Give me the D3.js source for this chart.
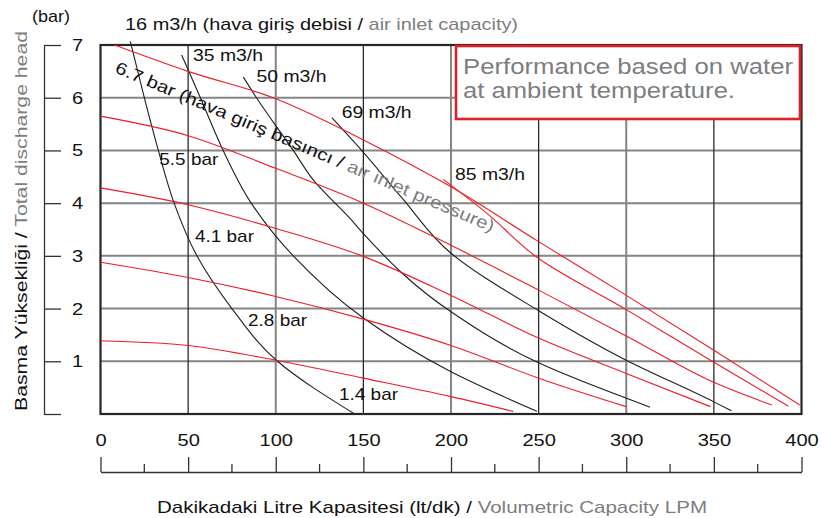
<!DOCTYPE html>
<html><head><meta charset="utf-8">
<script src="https://cdn.jsdelivr.net/npm/d3@7"></script>
<style>
body{margin:0;background:#fff}
text{font-family:"Liberation Sans",Arial,Helvetica,sans-serif}
</style></head><body>
<svg id="c" width="821" height="518"></svg>
<script>
// ---------- data ----------
const xTickValues = [0, 50, 100, 150, 200, 250, 300, 350, 400];
const xMinorTicks = [25, 75, 125, 175, 225, 275, 325, 375];
const yTickValues = [0, 1, 2, 3, 4, 5, 6, 7];
const yTickLabels = ["", "1", "2", "3", "4", "5", "6", "7"];

// constant air inlet pressure curves [LPM, bar]
const p67 = [[8,7.0],[50,6.5],[100,5.98],[150,5.2],[200,4.31],[250,3.27],[300,2.25],[350,1.21],[399,0.17]];
const p55 = [[0,5.65],[50,5.28],[100,4.66],[150,4.0],[200,3.2],[250,2.35],[300,1.48],[350,0.6],[383,0.17]];
const p41 = [[0,4.29],[50,3.97],[100,3.52],[150,2.99],[200,2.25],[250,1.44],[300,0.77],[348,0.14]];
const p28 = [[0,2.88],[50,2.59],[100,2.23],[150,1.8],[200,1.3],[250,0.68],[300,0.14]];
const p14 = [[0,1.39],[50,1.3],[100,1.02],[150,0.68],[200,0.33],[235.5,0.05]];

// constant air inlet capacity curves [LPM, bar]
const q16 = [[17,7.07],[25,6],[33,5],[42,4],[55,3],[75,2],[101,1],[145,0]];
const q35 = [[46.3,6.81],[57,6],[70,5],[86,4],[110,3],[150,1.82],[200,0.8],[249,0.05]];
const q50 = [[81.5,6.39],[89,6],[110,5],[121.4,4.44],[142.4,3.71],[150,3.42],[200,1.94],[250,0.97],[313.6,0.13]];
const q69 = [[132,5.62],[149,5.0],[172,4.1],[200,3.05],[250,1.96],[300,1.02],[350,0.23],[360,0.06]];
const q85 = [[195.6,4.45],[220,3.82],[250,2.95],[300,1.98],[350,0.98],[392.5,0.15]];

const pressureSeries = [p67, p55, p41, p28, p14];
const blackFlowSeries = [q16, q35, q50, q69];
const redFlowSeries = [q85];

const flowLabels = ["35 m3/h", "50 m3/h", "69 m3/h", "85 m3/h"];
const pressureLabels = ["5.5 bar", "4.1 bar", "2.8 bar", "1.4 bar"];
const legendLines = ["Performance based on water", "at ambient temperature."];

// ---------- layout ----------
const svg = d3.select("#c");
const x = d3.scaleLinear().domain([0, 400]).range([100.5, 801.5]);
const y = d3.scaleLinear().domain([0, 7]).range([414, 45]);
const RED = "#ee1c25", GREY_TXT = "#7d7d7f", DARK = "#1e1e1e";

// grid
const grid = svg.append("g");
grid.selectAll("line.h").data(yTickValues.filter(d => d > 0 && d < 7)).join("line")
  .attr("x1", x(0)).attr("x2", x(400)).attr("y1", d => y(d)).attr("y2", d => y(d))
  .attr("stroke", "#858585").attr("stroke-width", 2);
grid.selectAll("line.vg").data(xTickValues.filter(d => d > 0 && d < 400 && d % 100 === 0)).join("line")
  .attr("class","vg")
  .attr("x1", d => x(d)).attr("x2", d => x(d)).attr("y1", y(7)).attr("y2", y(0))
  .attr("stroke", "#858585").attr("stroke-width", 2);
grid.selectAll("line.vd").data(xTickValues.filter(d => d % 100 === 50)).join("line")
  .attr("class","vd")
  .attr("x1", d => x(d)).attr("x2", d => x(d)).attr("y1", y(7)).attr("y2", y(0))
  .attr("stroke", "#2a2a2a").attr("stroke-width", 1.3);
svg.append("rect").attr("x", x(0)).attr("y", y(7)).attr("width", x(400) - x(0)).attr("height", y(0) - y(7))
  .attr("fill", "none").attr("stroke", "#262626").attr("stroke-width", 2.2);

// legend box
svg.append("rect").attr("x", 456).attr("y", 46).attr("width", 344).attr("height", 73)
  .attr("fill", "#fff").attr("stroke", "#e31e26").attr("stroke-width", 2.6);
svg.append("g").selectAll("text").data(legendLines).join("text")
  .attr("x", 463).attr("y", (d, i) => 74 + i * 24).attr("font-size", 21.5).attr("fill", GREY_TXT)
  .attr("textLength", (d, i) => [330, 272][i]).attr("lengthAdjust", "spacingAndGlyphs").text(d => d);

// curves
const redLine = d3.line().x(d => x(d[0])).y(d => y(d[1])).curve(d3.curveMonotoneX);
const blackLine = d3.line().x(d => x(d[0])).y(d => y(d[1])).curve(d3.curveMonotoneY);
svg.append("g").selectAll("path").data(blackFlowSeries).join("path")
  .attr("d", blackLine).attr("fill", "none").attr("stroke", DARK).attr("stroke-width", 1.1);
svg.append("g").selectAll("path").data(pressureSeries).join("path")
  .attr("d", redLine).attr("fill", "none").attr("stroke", RED).attr("stroke-width", 1.1);
svg.append("g").selectAll("path").data(redFlowSeries).join("path")
  .attr("d", blackLine).attr("fill", "none").attr("stroke", RED).attr("stroke-width", 1.1);

// left axis
const yAxis = d3.axisRight(y).tickValues(yTickValues).tickSize(17).tickPadding(11).tickSizeOuter(0)
  .tickFormat((d, i) => yTickLabels[i]);
const gy = svg.append("g").attr("transform", "translate(44,0)").call(yAxis);
gy.select(".domain").attr("stroke", "#333").attr("stroke-width", 1.3);
gy.selectAll(".tick line").attr("stroke", "#333").attr("stroke-width", 1.3);
gy.selectAll("text").attr("font-size", 17).attr("fill", "#111").attr("font-family", null);

// bottom axis
const xAxis = d3.axisTop(x).tickValues(xTickValues).tickSize(15).tickPadding(11).tickSizeOuter(0);
const gx = svg.append("g").attr("transform", "translate(0,472)").call(xAxis);
gx.select(".domain").attr("stroke", "#333").attr("stroke-width", 1.3);
gx.selectAll(".tick line").attr("stroke", "#333").attr("stroke-width", 1.3);
gx.selectAll("text").attr("font-size", 17).attr("fill", "#111").attr("font-family", null);
gx.append("g").selectAll("line").data(xMinorTicks).join("line")
  .attr("x1", d => x(d)).attr("x2", d => x(d)).attr("y1", 0).attr("y2", -8)
  .attr("stroke", "#333").attr("stroke-width", 1.3);
[gx, gy].forEach(g => g.selectAll("text").each(function () {
  const w = this.getComputedTextLength();
  if (w > 0) d3.select(this).attr("textLength", w * 1.18).attr("lengthAdjust", "spacingAndGlyphs");
}));

// axis titles
const yt = svg.append("text").attr("transform", "translate(27,221) rotate(-90)")
  .attr("text-anchor", "middle").attr("font-size", 17)
  .attr("textLength", 380).attr("lengthAdjust", "spacingAndGlyphs");
yt.append("tspan").attr("fill", "#111").text("Basma Yüksekliği / ");
yt.append("tspan").attr("fill", GREY_TXT).text("Total discharge head");

const xt = svg.append("text").attr("x", 157).attr("y", 513).attr("font-size", 17)
  .attr("textLength", 550).attr("lengthAdjust", "spacingAndGlyphs");
xt.append("tspan").attr("fill", "#111").text("Dakikadaki Litre Kapasitesi (lt/dk) / ");
xt.append("tspan").attr("fill", GREY_TXT).text("Volumetric Capacity LPM");

svg.append("text").attr("x", 32).attr("y", 22).attr("font-size", 17).attr("fill", "#111")
  .attr("textLength", 38).attr("lengthAdjust", "spacingAndGlyphs").text("(bar)");

// top flow label
const tt = svg.append("text").attr("x", x(14)).attr("y", y(7.285)).attr("font-size", 17)
  .attr("textLength", 393).attr("lengthAdjust", "spacingAndGlyphs");
tt.append("tspan").attr("fill", "#111").text("16 m3/h (hava giriş debisi / ");
tt.append("tspan").attr("fill", GREY_TXT).text("air inlet capacity)");

// curve labels
const flowPos = [[52.8, 6.687], [89.0, 6.289], [137.6, 5.61], [202.3, 4.439]];
svg.append("g").selectAll("text").data(flowLabels).join("text")
  .attr("x", (d, i) => x(flowPos[i][0])).attr("y", (d, i) => y(flowPos[i][1]))
  .attr("font-size", 17).attr("fill", "#111")
  .attr("textLength", 70).attr("lengthAdjust", "spacingAndGlyphs").text(d => d);
const presPos = [[33.55, 4.724], [53.9, 3.272], [84.2, 1.66], [136.1, 0.266]];
svg.append("g").selectAll("text").data(pressureLabels).join("text")
  .attr("x", (d, i) => x(presPos[i][0])).attr("y", (d, i) => y(presPos[i][1]))
  .attr("font-size", 17).attr("fill", "#111")
  .attr("textLength", 59).attr("lengthAdjust", "spacingAndGlyphs").text(d => d);

// rotated 6.7 bar label
const rt = svg.append("text")
  .attr("transform", `translate(${x(7.7)},${y(6.488)}) rotate(23)`)
  .attr("font-size", 17).attr("textLength", 410).attr("lengthAdjust", "spacingAndGlyphs");
rt.append("tspan").attr("fill", "#111").text("6.7 bar (hava giriş basıncı / ");
rt.append("tspan").attr("fill", GREY_TXT).text("air inlet pressure)");
</script>
</body></html>
